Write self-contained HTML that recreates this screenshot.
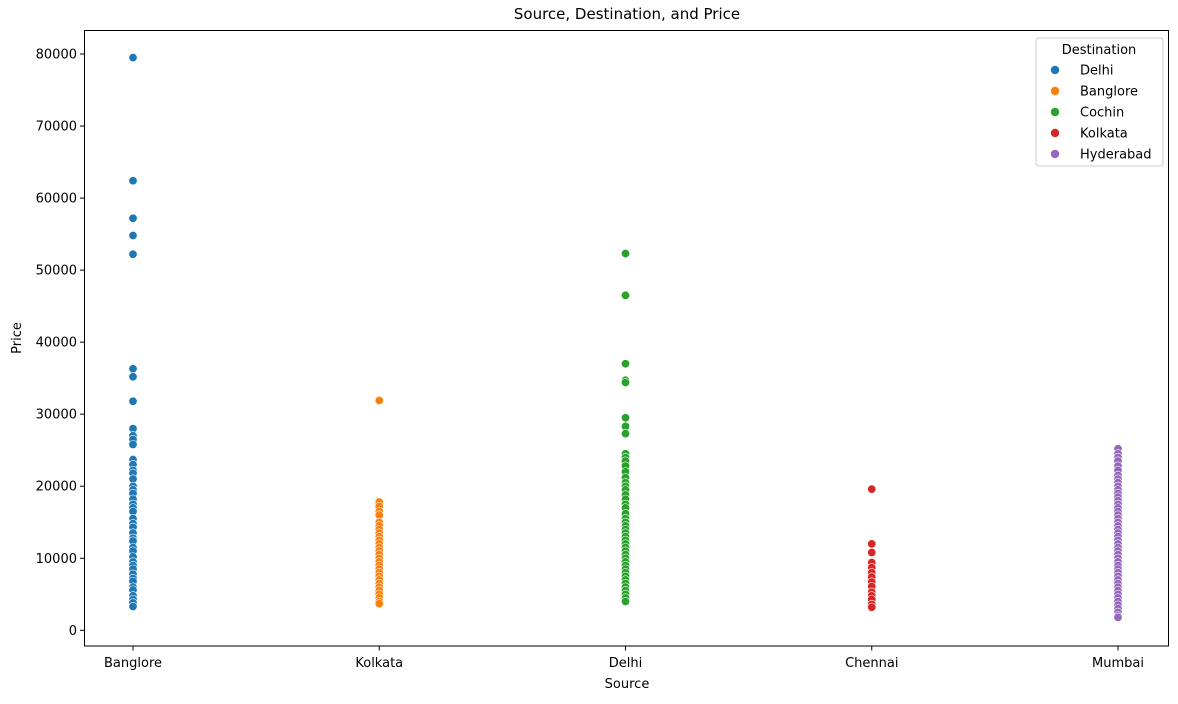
<!DOCTYPE html>
<html><head><meta charset="utf-8">
<style>
body{margin:0;background:#fff;font-family:"Liberation Sans","DejaVu Sans",sans-serif;}
svg text{font-family:"DejaVu Sans","Liberation Sans",sans-serif;font-size:13px;fill:#000;}
</style></head>
<body>
<svg id="chart" width="1178" height="699">
<rect x="0" y="0" width="1178" height="699" fill="#fff"/>
<text x="627" y="19" text-anchor="middle" style="font-size:15px">Source, Destination, and Price</text>
<g id="marks"></g>
<rect x="84.5" y="30.5" width="1084" height="615.5" fill="none" stroke="#000" stroke-width="1"/>
<g id="yaxis"></g>
<g id="xaxis"></g>
<text x="627" y="688" text-anchor="middle">Source</text>
<text transform="translate(21,338) rotate(-90)" text-anchor="middle">Price</text>
<g id="legend">
<rect x="1036" y="38" width="127" height="128" rx="3" fill="#fff" fill-opacity="0.8" stroke="#ccc"/>
<text x="1099" y="54" text-anchor="middle">Destination</text>
</g>
</svg>
<script>
const categories=["Banglore","Kolkata","Delhi","Chennai","Mumbai"];
const destinations=["Delhi","Banglore","Cochin","Kolkata","Hyderabad"];
const colors=["#1f77b4","#ff7f0e","#2ca02c","#d62728","#9467bd"];
const yTicks=[0,10000,20000,30000,40000,50000,60000,70000,80000];
const pricesBanglore=[79500,62400,57200,54800,52200,36300,35200,31800,28000,27000,26500,25800,23700,23000,22200,21800,21000,20000,19500,19000,18200,17500,17000,16500,15500,14800,14300,13500,12800,12400,11500,11000,10200,9500,9000,8500,7800,7200,6800,6000,5600,4800,4300,3800,3300];
const pricesKolkata=[31900,17800,17200,16500,16000,15000,14500,14000,13500,13000,12500,12000,11500,11000,10500,10000,9500,9000,8500,8000,7500,7000,6500,6000,5500,5000,4500,4000,3700];
const pricesDelhi=[52300,46500,37000,34700,34400,29500,28300,27300,24500,24000,23500,22800,22000,21200,20500,20000,19500,18800,18200,17500,17000,16200,15500,15000,14500,14000,13500,13000,12500,12000,11500,11000,10500,10000,9500,9000,8500,8000,7500,7000,6500,6000,5500,5000,4500,4000];
const pricesChennai=[19600,12000,10800,9400,8700,8000,7400,6700,6100,5300,4800,4300,3600,3200];
const pricesMumbai=[25200,24500,24000,23500,22800,22200,21500,21000,20500,20000,19500,19000,18500,18000,17500,17000,16500,16000,15500,15000,14500,14000,13500,13000,12500,12000,11500,11000,10500,10000,9500,9000,8500,8000,7500,7000,6500,6000,5500,5000,4500,4000,3500,3000,2500,2000,1800];
const seriesPrices=[pricesBanglore,pricesKolkata,pricesDelhi,pricesChennai,pricesMumbai];

const NS="http://www.w3.org/2000/svg";
function xScale(i){return 133+i*246.25;}
function yScale(v){return 630.3-v*(576.3/80000);}
function mk(tag,attrs,parent){const e=document.createElementNS(NS,tag);for(const k in attrs)e.setAttribute(k,attrs[k]);parent.appendChild(e);return e;}

const marks=document.getElementById('marks');
seriesPrices.forEach((arr,si)=>{
  const g=mk('g',{},marks);
  
  
  arr.forEach(v=>{
    const c=mk('circle',{cx:xScale(si),cy:yScale(v),r:4.2,fill:colors[si],stroke:'#fff','stroke-width':0.6},g);
    
    
  });
});

const ya=document.getElementById('yaxis');
yTicks.forEach(t=>{
  const y=yScale(t);
  mk('line',{x1:80,x2:84.5,y1:y,y2:y,stroke:'#000'},ya);
  const tx=mk('text',{x:77,y:y+4.5,'text-anchor':'end'},ya);
  tx.textContent=t;
  
  
});
const xa=document.getElementById('xaxis');
categories.forEach((c,i)=>{
  const x=xScale(i);
  mk('line',{x1:x,x2:x,y1:646,y2:650.5,stroke:'#000'},xa);
  const tx=mk('text',{x:x,y:667,'text-anchor':'middle'},xa);
  tx.textContent=c;
  
  
});
const lg=document.getElementById('legend');
destinations.forEach((d,i)=>{
  const y=70+i*21;
  const g=mk('g',{},lg);
  
  
  mk('circle',{cx:1055,cy:y,r:4.2,fill:colors[i]},g);
  const tx=mk('text',{x:1080,y:y+4.5},g);
  tx.textContent=d;
});
</script>
</body></html>
